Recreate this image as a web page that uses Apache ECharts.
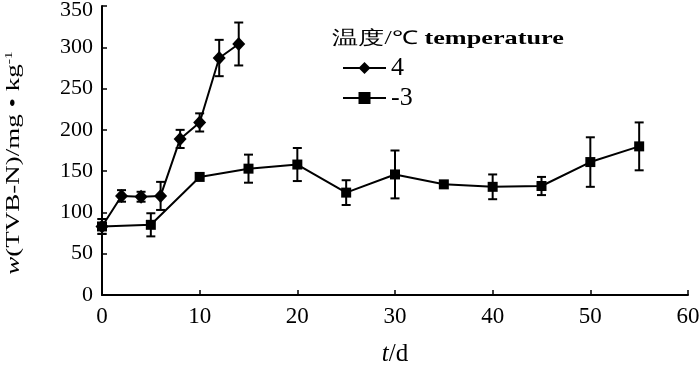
<!DOCTYPE html>
<html><head><meta charset="utf-8">
<script src="https://cdn.jsdelivr.net/npm/echarts@6/dist/echarts.min.js"></script>
<style>html,body{margin:0;padding:0;background:#fff}#c{width:700px;height:365px}</style>
</head><body><div id="c"></div>
<script>
const days4 = [0, 2, 4, 6, 8, 10, 12, 14];
const vals4 = [83, 120, 119, 120, 189, 209, 287, 304];
const err4 = [9, 7, 6, 17, 11, 11, 22, 26];
const daysM3 = [0, 5, 10, 15, 20, 25, 30, 35, 40, 45, 50, 55];
const valsM3 = [83, 85, 143, 153, 158, 124, 146, 134, 131, 132, 161, 180];
const errM3 = [9, 14, 0, 17, 20, 15, 29, 0, 15, 11, 30, 29];
const seriesNames = ['4', '-3'];
const legendTitle = '温度/℃ temperature';
const yName = '{i|w}(TVB-N)/mg • kg{s|-1}';
const xName = '{i|t}/d';

const FONT = 'Liberation Serif';
function errSeries(days, vals, errs) {
  return {
    type: 'custom', silent: true, z: 1,
    data: days.map((d, i) => [d, vals[i] - errs[i], vals[i] + errs[i]]),
    renderItem: function (params, api) {
      const lo = api.coord([api.value(0), api.value(1)]);
      const hi = api.coord([api.value(0), api.value(2)]);
      if (Math.abs(lo[1] - hi[1]) < 1) return null;
      const w = 4.5;
      const st = { stroke: '#000', lineWidth: 2 };
      return { type: 'group', children: [
        { type: 'line', shape: { x1: lo[0], y1: lo[1], x2: hi[0], y2: hi[1] }, style: st },
        { type: 'line', shape: { x1: lo[0] - w, y1: lo[1], x2: lo[0] + w, y2: lo[1] }, style: st },
        { type: 'line', shape: { x1: hi[0] - w, y1: hi[1], x2: hi[0] + w, y2: hi[1] }, style: st }
      ]};
    }
  };
}
const chart = echarts.init(document.getElementById('c'), null, { renderer: 'canvas' });
chart.setOption({
  animation: false,
  backgroundColor: '#fff',
  textStyle: { fontFamily: FONT, color: '#000' },
  graphic: [
    { type: 'text', x: 332, y: 39, scaleX: 1.38, scaleY: 1,
      style: { text: '{c|温度/℃ }{b|temperature}', verticalAlign: 'middle', align: 'left', fill: '#000',
        rich: { c: { fontFamily: FONT, fontSize: 19, fill: '#000' },
                b: { fontFamily: FONT, fontSize: 19, fontWeight: 'bold', fill: '#000' } } } },
    { type: 'text', x: 14, y: 163, rotation: Math.PI / 2, scaleX: 1.42, scaleY: 1,
      style: { text: yName, align: 'center', verticalAlign: 'middle', fill: '#000',
        font: '19px "Liberation Serif"',
        rich: { i: { fontStyle: 'italic', fontFamily: FONT, fontSize: 19, fill: '#000' },
                s: { fontFamily: FONT, fontSize: 11, padding: [0, 0, 9, 0], fill: '#000' } } } }
  ],
  legend: {
    data: seriesNames, orient: 'vertical', left: 337, top: 50,
    itemWidth: 43, itemHeight: 15, itemGap: 4,
    textStyle: { fontFamily: FONT, fontSize: 26, color: '#000', lineHeight: 26 }
  },
  grid: { left: 102, right: 12, top: 6, bottom: 70, containLabel: false, outerBoundsMode: 'none' },
  xAxis: {
    type: 'value', min: 0, max: 60, interval: 10,
    name: xName, nameLocation: 'middle', nameGap: 47,
    nameTextStyle: { fontFamily: FONT, fontSize: 25, color: '#000',
      rich: { i: { fontStyle: 'italic', fontFamily: FONT, fontSize: 25 } } },
    axisLine: { lineStyle: { color: '#000', width: 2 } },
    axisTick: { inside: true, length: 5, lineStyle: { color: '#000', width: 1.5 } },
    axisLabel: { fontFamily: FONT, fontSize: 23, color: '#000', margin: 10 },
    splitLine: { show: false }
  },
  yAxis: {
    type: 'value', min: 0, max: 350, interval: 50,
    axisLine: { show: true, lineStyle: { color: '#000', width: 2 } },
    axisTick: { show: true, inside: true, length: 5, lineStyle: { color: '#000', width: 1.5 } },
    axisLabel: { fontFamily: FONT, fontSize: 22, color: '#000', margin: 9,
      formatter: function (v) { return v === 350 ? '{t|' + v + '}' : String(v); },
      rich: { t: { fontFamily: FONT, fontSize: 22, padding: [9, 0, 0, 0] } } },
    splitLine: { show: false }
  },
  series: [
    errSeries(days4, vals4, err4),
    errSeries(daysM3, valsM3, errM3),
    { name: seriesNames[0], type: 'line', z: 3, data: days4.map((d, i) => [d, vals4[i]]),
      symbol: 'diamond', symbolSize: [13, 14], color: '#000',
      lineStyle: { color: '#000', width: 2 }, itemStyle: { color: '#000' } },
    { name: seriesNames[1], type: 'line', z: 3, data: daysM3.map((d, i) => [d, valsM3[i]]),
      symbol: 'rect', symbolSize: 10, color: '#000',
      lineStyle: { color: '#000', width: 2 }, itemStyle: { color: '#000' } }
  ]
});
</script></body></html>
